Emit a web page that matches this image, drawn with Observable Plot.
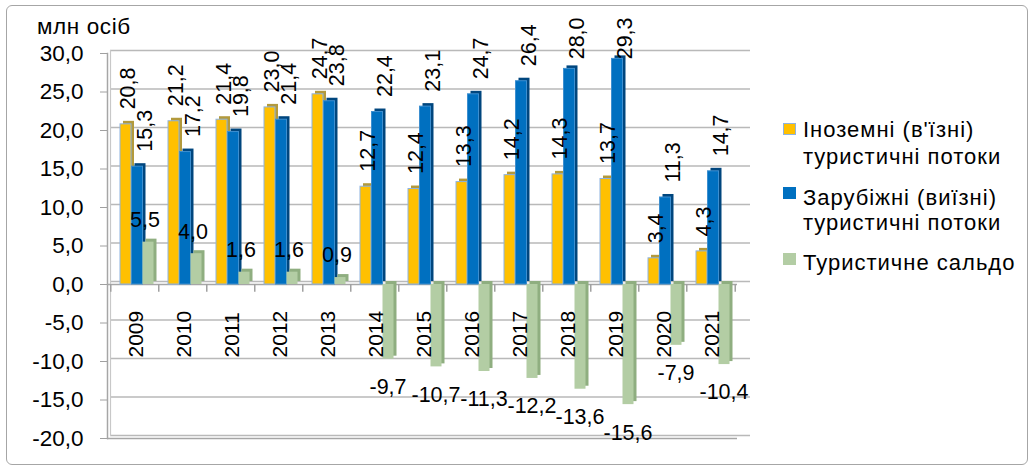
<!DOCTYPE html>
<html>
<head>
<meta charset="utf-8">
<script src="https://cdn.jsdelivr.net/npm/d3@7"></script>
<script src="https://cdn.jsdelivr.net/npm/@observablehq/plot@0.6"></script>
<style>
  html, body { margin: 0; padding: 0; background: #fff; }
  #wrap { position: relative; width: 1033px; height: 468px; overflow: hidden;
          font-family: "Liberation Sans", Arial, sans-serif; color: #000; }
  #border { position: absolute; left: 6px; top: 5px; width: 1020px; height: 458px;
            border: 1.5px solid #a6a6a6; border-radius: 6px; }
  #unit { position: absolute; left: 37px; top: 14px; font-size: 22.5px; line-height: 26px; letter-spacing: 0.6px; white-space: nowrap; }
  .lg { position: absolute; font-size: 22px; line-height: 26px; letter-spacing: 1px; white-space: nowrap; }
  .sw { position: absolute; width: 13px; height: 12px; box-sizing: border-box; }
  #chart { position: absolute; left: 0; top: 0; }
</style>
</head>
<body>
<div id="wrap">
  <div id="border"></div>
  <div id="chart"></div>
  <div id="unit"></div>
  <div id="legend"></div>
</div>
<script>
// ---- data ----
const years = ["2009","2010","2011","2012","2013","2014","2015","2016","2017","2018","2019","2020","2021"];
const inbound = [20.8, 21.2, 21.4, 23.0, 24.7, 12.7, 12.4, 13.3, 14.2, 14.3, 13.7, 3.4, 4.3];
const outbound = [15.3, 17.2, 19.8, 21.4, 23.8, 22.4, 23.1, 24.7, 26.4, 28.0, 29.3, 11.3, 14.7];
const balance = [5.5, 4.0, 1.6, 1.6, 0.9, -9.7, -10.7, -11.3, -12.2, -13.6, -15.6, -7.9, -10.4];
const seriesNames = ["Іноземні (в'їзні)\nтуристичні потоки", "Зарубіжні (виїзні)\nтуристичні потоки", "Туристичне сальдо"];
const yTicks = [-20, -15, -10, -5, 0, 5, 10, 15, 20, 25, 30];
const unitLabel = "млн осіб";

// ---- layout / style ----
const W = 1033, H = 468;
const mL = 107, mR = 296, mT = 53, mB = 30;
const step = (W - mL - mR) / years.length;
const barW = 11;
const labelCap = 27.3;   // labels are kept inside the chart area (as the spreadsheet does)
const fmt = v => v.toFixed(1).replace(".", ",");
const styles = [
  {face: "#FFC000", side: "#b39a3c", stroke: "#8db3e2", dx: -9,  label: -7},
  {face: "#0070C0", side: "#00467e", stroke: "#3d8fd0", dx: 2.5, label: 10},
  {face: "#B3CDA4", side: "#8fae80", stroke: "none",    dx: 13.5, label: 9}
];
const seriesValues = [inbound, outbound, balance];
const idx = years.map((_, i) => i);

const marks = [];
// gridlines (back wall, offset for depth)
marks.push(Plot.ruleY(yTicks, {stroke: "#b9b9b9", strokeWidth: 1.5, dx: 3, dy: -3, insetRight: -10}));
// floor / front lines
marks.push(Plot.ruleY([0, yTicks[0]], {stroke: "#a6a6a6", strokeWidth: 1.5}));
marks.push(Plot.frame({anchor: "left", stroke: "#a6a6a6", strokeWidth: 1.5}));
marks.push(Plot.frame({anchor: "left", stroke: "#c8c8c8", strokeWidth: 1.2, dx: 3, dy: -3}));
// category ticks on the zero line
marks.push(Plot.ruleX(idx, {x: i => years[i], y1: 0, y2: -1, dx: -step / 2, stroke: "#a0a0a0", strokeWidth: 1.5}));
marks.push(Plot.ruleX([years.length - 1], {x: i => years[i], y1: 0, y2: -1, dx: step / 2, stroke: "#a0a0a0", strokeWidth: 1.5}));

// bars with a simple depth effect
seriesValues.forEach((vals, s) => {
  const st = styles[s];
  marks.push(Plot.barY(idx, {x: i => years[i], y: i => vals[i], fill: st.side, dx: st.dx + 3, dy: -3}));
  marks.push(Plot.barY(idx, {x: i => years[i], y: i => vals[i], fill: st.face, stroke: st.stroke, strokeWidth: 1, dx: st.dx}));
});

// year labels
marks.push(Plot.text(idx, {x: i => years[i], y: 0, text: i => years[i], rotate: -90, textAnchor: "start", lineAnchor: "middle", dx: 1, dy: 73, fontSize: 21, letterSpacing: 0.3}));

// value labels (rotated) for inbound/outbound
[0, 1].forEach(s => {
  const vals = seriesValues[s];
  marks.push(Plot.text(idx, {x: i => years[i], y: i => Math.min(vals[i], labelCap), text: i => fmt(vals[i]), rotate: -90, textAnchor: "start", lineAnchor: "middle", dx: styles[s].label, dy: -15, fontSize: 21.5, letterSpacing: 0.3}));
});
// balance labels
marks.push(Plot.text(idx.filter(i => balance[i] >= 0), {x: i => years[i], y: i => balance[i], text: i => fmt(balance[i]), lineAnchor: "middle", dx: 10, dy: -22, fontSize: 21.5, letterSpacing: 0.4}));
marks.push(Plot.text(idx.filter(i => balance[i] < 0), {x: i => years[i], y: i => balance[i], text: i => fmt(balance[i]), lineAnchor: "middle", dx: 13, dy: 28, fontSize: 21.5, letterSpacing: 0.4}));

// y axis
marks.push(Plot.axisY({ticks: yTicks, tickFormat: fmt, tickSize: 7, tickPadding: 17, stroke: "#a0a0a0", fill: "#000", fontSize: 22.5, label: null}));

const chart = Plot.plot({
  width: W, height: H,
  marginLeft: mL, marginRight: mR, marginTop: mT, marginBottom: mB,
  x: {type: "band", domain: years, paddingInner: 1 - barW / step, paddingOuter: (1 - barW / step) / 2, axis: null},
  y: {domain: [yTicks[0], yTicks[yTicks.length - 1]], axis: null},
  style: {background: "transparent", fontFamily: "'Liberation Sans', Arial, sans-serif", fontSize: "21px", color: "#000", overflow: "visible"},
  marks
});
document.getElementById("chart").appendChild(chart);
document.getElementById("unit").textContent = unitLabel;

// legend
const legend = document.getElementById("legend");
const swTops = [123, 187, 253];
const lineTops = [[117, 144], [185, 210], [250]];
seriesNames.forEach((name, s) => {
  const sw = document.createElement("div");
  sw.className = "sw";
  sw.style.left = "783px";
  sw.style.top = swTops[s] + "px";
  sw.style.background = styles[s].face;
  if (s === 0) sw.style.border = "1.5px solid " + styles[0].stroke;
  legend.appendChild(sw);
  name.split("\n").forEach((line, k) => {
    const t = document.createElement("div");
    t.className = "lg";
    t.style.left = "803px";
    t.style.top = lineTops[s][k] + "px";
    t.textContent = line;
    legend.appendChild(t);
  });
});
</script>
</body>
</html>
